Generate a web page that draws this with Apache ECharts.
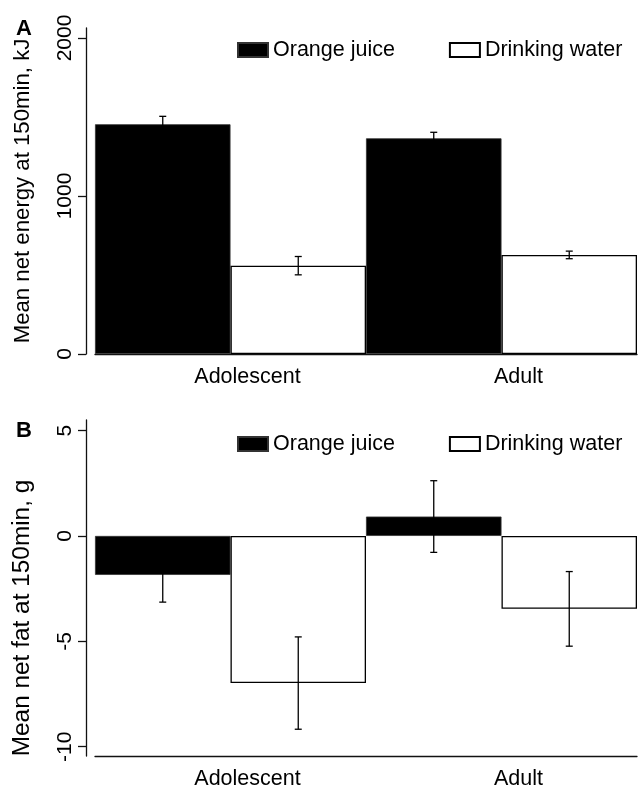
<!DOCTYPE html>
<html><head><meta charset="utf-8">
<script src="https://cdn.jsdelivr.net/npm/echarts@6/dist/echarts.min.js"></script>
<style>html,body{margin:0;padding:0;background:#fff}#c{width:638px;height:792px}</style>
</head><body><div id="c"></div>
<script>
const categories = ['Adolescent', 'Adult'];
const seriesNames = ['Orange juice', 'Drinking water'];
// Panel A: mean net energy at 150 min (kJ)
const energyJuice = [1454, 1365];
const energyJuiceSE = [50, 38];
const energyWater = [559, 627];
const energyWaterSE = [58, 24];
const energyTicks = [0, 1000, 2000];
// Panel B: mean net fat at 150 min (g)
const fatJuice = [-1.85, 0.92];
const fatJuiceSE = [1.29, 1.70];
const fatWater = [-6.98, -3.46];
const fatWaterSE = [2.19, 1.77];
const fatTicks = [-10, -5, 0, 5];

const FONT = 'Liberation Sans, Arial, Helvetica, sans-serif';
const chart = echarts.init(document.getElementById('c'), null, {renderer: 'canvas'});

function errRender(params, api) {
  const i = api.value(0), m = api.value(1), se = api.value(2), side = api.value(3);
  const band = api.size([1, 0])[0];
  const c = api.coord([i, m]);
  const x = c[0] + side * band / 4;
  const top = api.coord([i, m + se])[1];
  const bot = api.coord([i, m - se])[1];
  const cap = 3.5;
  const st = {stroke: '#000', lineWidth: 1.3};
  return {type: 'group', children: [
    {type: 'line', shape: {x1: x, y1: top, x2: x, y2: bot}, style: st},
    {type: 'line', shape: {x1: x - cap, y1: top, x2: x + cap, y2: top}, style: st},
    {type: 'line', shape: {x1: x - cap, y1: bot, x2: x + cap, y2: bot}, style: st}
  ]};
}
function errData(means, ses, side) {
  return means.map((m, i) => [i, m, ses[i], side]);
}

const juiceStyle = {color: '#000', borderColor: '#333', borderWidth: 0.8};
const waterStyle = {color: '#fff', borderColor: '#000', borderWidth: 1.3};
const axisLineStyle = {color: '#111', width: 1.3};

function yAxisCfg(gridIndex, min, max, ticks, name, nameSize, namePad) {
  return {
    type: 'value', gridIndex, min, max, offset: 9,
    axisLine: {show: true, lineStyle: axisLineStyle},
    axisTick: {show: true, length: 8, customValues: ticks, lineStyle: axisLineStyle},
    axisLabel: {customValues: ticks, rotate: 90, margin: 10, fontSize: 21, color: '#000', fontFamily: FONT,
      formatter: v => String(v)},
    splitLine: {show: false},
    name, nameLocation: 'middle', nameGap: 52,
    nameTextStyle: {fontSize: nameSize, color: '#000', fontFamily: FONT, padding: namePad}
  };
}
function xAxisCfg(gridIndex, onZero) {
  return {
    type: 'category', gridIndex, data: categories, position: 'bottom',
    axisLine: {show: true, onZero, lineStyle: axisLineStyle},
    axisTick: {show: false},
    axisLabel: {fontSize: 21.5, color: '#000', fontFamily: FONT, margin: 12, padding: [0, 0, 0, 34]}
  };
}
function legendCfg(top) {
  return {
    data: seriesNames, left: 232, top, icon: 'rect', itemWidth: 30, itemHeight: 14, itemGap: 54,
    textStyle: {fontSize: 21.5, color: '#000', fontFamily: FONT}, selectedMode: false
  };
}

chart.setOption({
  animation: false,
  backgroundColor: '#fff',
  title: [
    {text: 'A', left: 11, top: 13, textStyle: {fontSize: 22, fontWeight: 'bold', color: '#000', fontFamily: FONT}},
    {text: 'B', left: 11, top: 415, textStyle: {fontSize: 22, fontWeight: 'bold', color: '#000', fontFamily: FONT}}
  ],
  legend: [legendCfg(34), legendCfg(428)],
  grid: [
    {left: 95, right: 1, top: 28, height: 326},
    {left: 95, right: 1, top: 420, height: 336}
  ],
  xAxis: [xAxisCfg(0, true), xAxisCfg(1, false)],
  yAxis: [
    yAxisCfg(0, 0, 2063, energyTicks, 'Mean net energy at 150min, kJ', 22.2, [0, 0, 0, 0]),
    yAxisCfg(1, -10.44, 5.5, fatTicks, 'Mean net fat at 150min, g', 24.4, [0, 60, 0, 0])
  ],
  series: [
    {name: seriesNames[0], type: 'bar', xAxisIndex: 0, yAxisIndex: 0, data: energyJuice, barGap: '0%', barCategoryGap: '0%', itemStyle: juiceStyle},
    {name: seriesNames[1], type: 'bar', xAxisIndex: 0, yAxisIndex: 0, data: energyWater, barGap: '0%', barCategoryGap: '0%', itemStyle: waterStyle},
    {name: seriesNames[0], type: 'bar', xAxisIndex: 1, yAxisIndex: 1, data: fatJuice, barGap: '0%', barCategoryGap: '0%', itemStyle: juiceStyle},
    {name: seriesNames[1], type: 'bar', xAxisIndex: 1, yAxisIndex: 1, data: fatWater, barGap: '0%', barCategoryGap: '0%', itemStyle: waterStyle},
    {type: 'custom', xAxisIndex: 0, yAxisIndex: 0, renderItem: errRender, data: errData(energyJuice, energyJuiceSE, -1).concat(errData(energyWater, energyWaterSE, 1)), z: 5, silent: true},
    {type: 'custom', xAxisIndex: 1, yAxisIndex: 1, renderItem: errRender, data: errData(fatJuice, fatJuiceSE, -1).concat(errData(fatWater, fatWaterSE, 1)), z: 5, silent: true}
  ]
});
</script></body></html>
